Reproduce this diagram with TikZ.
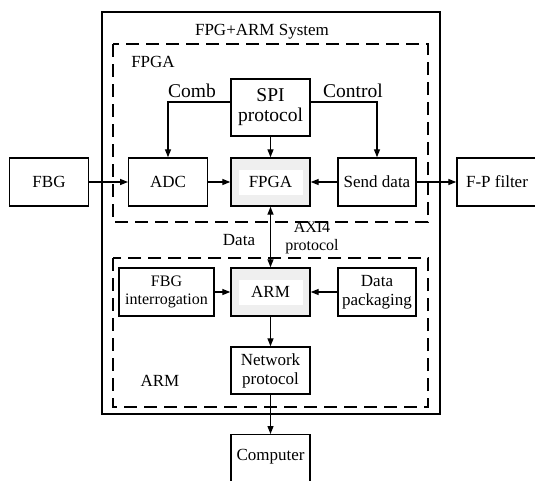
\documentclass[tikz,border=0pt]{standalone}
\usepackage{fontspec}
\setmainfont{Liberation Serif}
\usetikzlibrary{arrows.meta}
\definecolor{coregray}{HTML}{EFEFEF}
\newcommand{\fsbox}{\fontsize{17}{19}\selectfont}
\newcommand{\fsbig}{\fontsize{19.5}{20}\selectfont}
\newcommand{\fssmall}{\fontsize{16}{18}\selectfont}
\begin{document}
\begin{tikzpicture}[x=1pt,y=-1pt,
  box/.style={draw, line width=1.4pt, inner sep=0pt, align=center, font=\fsbox},
  core/.style={box, fill=coregray},
  inlay/.style={fill=white, minimum width=64pt, minimum height=25pt, inner sep=0pt, font=\fsbox},
  frame/.style={line width=1.5pt, dash pattern=on 13pt off 7pt},
  tag/.style={anchor=base, inner sep=0pt, font=\fsbox},
  link/.style={line width=1.3pt, -{Triangle[length=8pt,width=6pt]}},
  duplex/.style={line width=1.3pt, {Triangle[length=8pt,width=6pt]}-{Triangle[length=8pt,width=6pt]}}
]
\useasboundingbox (0,0) rectangle (535,480);
\clip (0,0) rectangle (535,480);

% system frame and the two subsystem regions
\draw[line width=1.3pt] (102,12) rectangle (440,414);
\draw[frame] (113,44) rectangle (428,222);
\draw[frame] (113,258) rectangle (428,407);

\node[tag, font=\fsbox] (title) at (262,35) {FPG+ARM System};
\node[tag] (fpgalabel) at (153,67) {FPGA};
\node[tag] (armlabel) at (160,386) {ARM};

% FPGA row
\node[box, minimum width=79.5pt, minimum height=48pt] (fbg) at (49,182) {FBG};
\node[box, minimum width=78.5pt, minimum height=48pt] (adc) at (168,182) {ADC};
\node[core, minimum width=79pt, minimum height=48pt] (fpga) at (270.5,182) {};
\node[inlay] (fpgatext) at (fpga) {FPGA};
\node[box, minimum width=78pt, minimum height=48pt] (send) at (377,182) {Send data};
\node[box, minimum width=80pt, minimum height=48pt] (fp) at (497,182) {F-P filter};
\node[box, font=\fsbig, minimum width=79pt, minimum height=57pt] (spi) at (270.5,107.5) {SPI\\protocol};

\node[tag, font=\fsbig] (comb) at (192,97) {Comb};
\node[tag, font=\fsbig] (control) at (353,97) {Control};

% ARM row
\node[box, font=\fssmall, minimum width=95pt, minimum height=48pt] (fbgi) at (166.5,292) {FBG\\interrogation};
\node[core, minimum width=79pt, minimum height=48pt] (arm) at (270.5,292) {};
\node[inlay] (armtext) at (arm) {ARM};
\node[box, minimum width=78pt, minimum height=48pt] (pack) at (377,292) {Data\\packaging};
\node[box, minimum width=79pt, minimum height=47pt] (net) at (270.5,370.5) {Network\\protocol};
\node[box, anchor=north, minimum width=79pt, text height=25.5pt, text depth=30.5pt] (comp) at (270.5,434) {Computer};

\node[tag] (datalabel) at (239,245) {Data};
\node[tag, font=\fssmall, align=center, anchor=center] (axi) at (312,238) {AXI4\\protocol};

% connectors
\draw[link] (fbg) -- (adc);
\draw[link] (adc) -- (fpga);
\draw[link] (send) -- (fpga);
\draw[link] (send) -- (fp);
\draw[link] (spi) -- (fpga);
\draw[link] (spi.west |- 0,102) -| (adc);
\draw[link] (spi.east |- 0,102) -| (send);
\draw[duplex] (fpga) -- (arm);
\draw[link] (fbgi) -- (arm);
\draw[link] (pack) -- (arm);
\draw[link] (arm) -- (net);
\draw[link] (net) -- (comp);
\end{tikzpicture}
\end{document}
